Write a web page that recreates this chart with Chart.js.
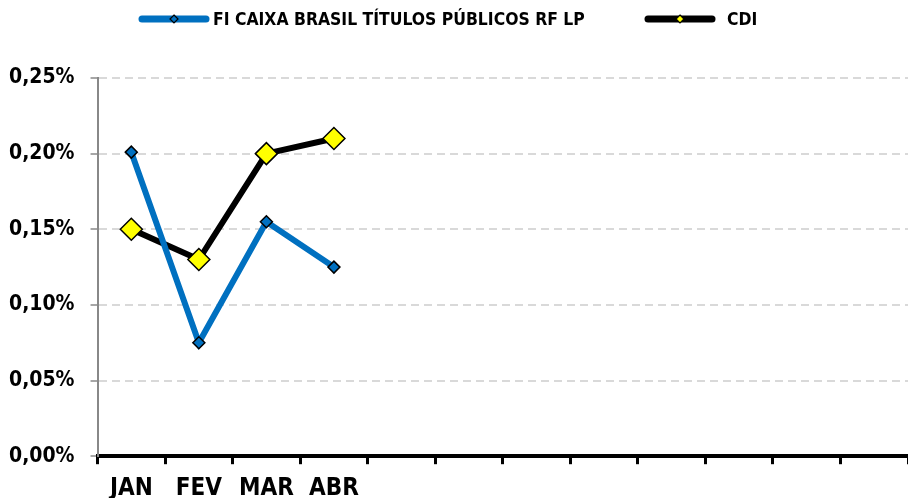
<!DOCTYPE html>
<html>
<head>
<meta charset="utf-8">
<script src="https://cdn.jsdelivr.net/npm/chart.js@4/dist/chart.umd.min.js"></script>
<style>
  html, body { margin: 0; padding: 0; background: #fff; }
  #wrap { width: 908px; height: 498px; }
</style>
</head>
<body>
<div id="wrap"><canvas id="chart" width="908" height="498"></canvas></div>
<script>
// Dados
const meses = ['JAN', 'FEV', 'MAR', 'ABR', '', '', '', '', '', '', '', ''];
const fundoNome = 'FI CAIXA BRASIL TÍTULOS PÚBLICOS RF LP';
const fundoValores = [0.201, 0.075, 0.155, 0.125];
const cdiNome = 'CDI';
const cdiValores = [0.150, 0.130, 0.200, 0.210];
const yTicks = [0, 0.05, 0.10, 0.15, 0.20, 0.25];

const FONTE = "'Liberation Sans Narrow', 'DejaVu Sans Condensed', Arial, sans-serif";
const AZUL = '#0070C0';
const AMARELO = '#FFFF00';

// Amostra da legenda: linha + losango
function amostraLegenda(corLinha, corMarcador, tamanho) {
  const c = document.createElement('canvas');
  c.width = 72;
  c.height = 16;
  const g = c.getContext('2d');
  g.strokeStyle = corLinha;
  g.lineWidth = 7;
  g.lineCap = 'round';
  g.beginPath();
  g.moveTo(4, 8);
  g.lineTo(68, 8);
  g.stroke();
  g.fillStyle = corMarcador;
  g.strokeStyle = '#000';
  g.lineWidth = 1.2;
  g.beginPath();
  g.moveTo(36, 8 - tamanho);
  g.lineTo(36 + tamanho, 8);
  g.lineTo(36, 8 + tamanho);
  g.lineTo(36 - tamanho, 8);
  g.closePath();
  g.fill();
  g.stroke();
  return c;
}

const legendaItens = [
  { img: amostraLegenda(AZUL, AZUL, 4), x: 138, texto: 75 },
  { img: amostraLegenda('#000', AMARELO, 4), x: 644, texto: 83 }
];

// Legenda desenhada no topo
const legendaTopo = {
  id: 'legendaTopo',
  afterDraw(chart) {
    const ctx = chart.ctx;
    ctx.save();
    ctx.font = 'bold 17.4px ' + FONTE;
    ctx.textBaseline = 'middle';
    ctx.fillStyle = '#000';
    chart.data.datasets.forEach((ds, i) => {
      const item = legendaItens[i];
      ctx.drawImage(item.img, item.x, 19 - 8);
      ctx.fillText(ds.label, item.x + item.texto, 20);
    });
    ctx.restore();
  }
};

const ctx = document.getElementById('chart').getContext('2d');
new Chart(ctx, {
  type: 'line',
  data: {
    labels: meses,
    datasets: [
      {
        label: fundoNome,
        data: fundoValores,
        borderColor: AZUL,
        borderWidth: 6,
        pointStyle: 'rectRot',
        pointRadius: 6,
        pointBackgroundColor: AZUL,
        pointBorderColor: '#000',
        pointBorderWidth: 1.5,
        tension: 0
      },
      {
        label: cdiNome,
        data: cdiValores,
        borderColor: '#000',
        borderWidth: 6,
        borderCapStyle: 'round',
        pointStyle: 'rectRot',
        pointRadius: 11,
        pointBackgroundColor: AMARELO,
        pointBorderColor: '#000',
        pointBorderWidth: 1.5,
        tension: 0
      }
    ]
  },
  options: {
    responsive: false,
    animation: false,
    layout: { autoPadding: false, padding: { top: 78, left: -7, right: -10, bottom: -15 } },
    plugins: {
      legend: { display: false },
      tooltip: { enabled: false }
    },
    scales: {
      x: {
        offset: true,
        border: { color: '#000', width: 4 },
        grid: {
          offset: true,
          drawOnChartArea: false,
          drawTicks: true,
          tickLength: 8,
          tickColor: '#000',
          tickWidth: 3
        },
        ticks: {
          autoSkip: false,
          maxRotation: 0,
          padding: 10,
          color: '#000',
          font: { family: FONTE, size: 24, weight: 'bold' }
        }
      },
      y: {
        min: 0,
        max: 0.25,
        afterBuildTicks(scale) {
          scale.ticks = yTicks.map(v => ({ value: v }));
        },
        border: { color: '#888', width: 2, dash: [8, 5] },
        grid: {
          color: '#d9d9d9',
          lineWidth: 2,
          tickLength: 7,
          tickColor: '#888',
          tickWidth: 1.5
        },
        ticks: {
          padding: 16,
          color: '#000',
          font: { family: FONTE, size: 21, weight: 'bold' },
          callback: v => v.toFixed(2).replace('.', ',') + '%'
        }
      }
    }
  },
  plugins: [legendaTopo]
});
</script>
</body>
</html>
